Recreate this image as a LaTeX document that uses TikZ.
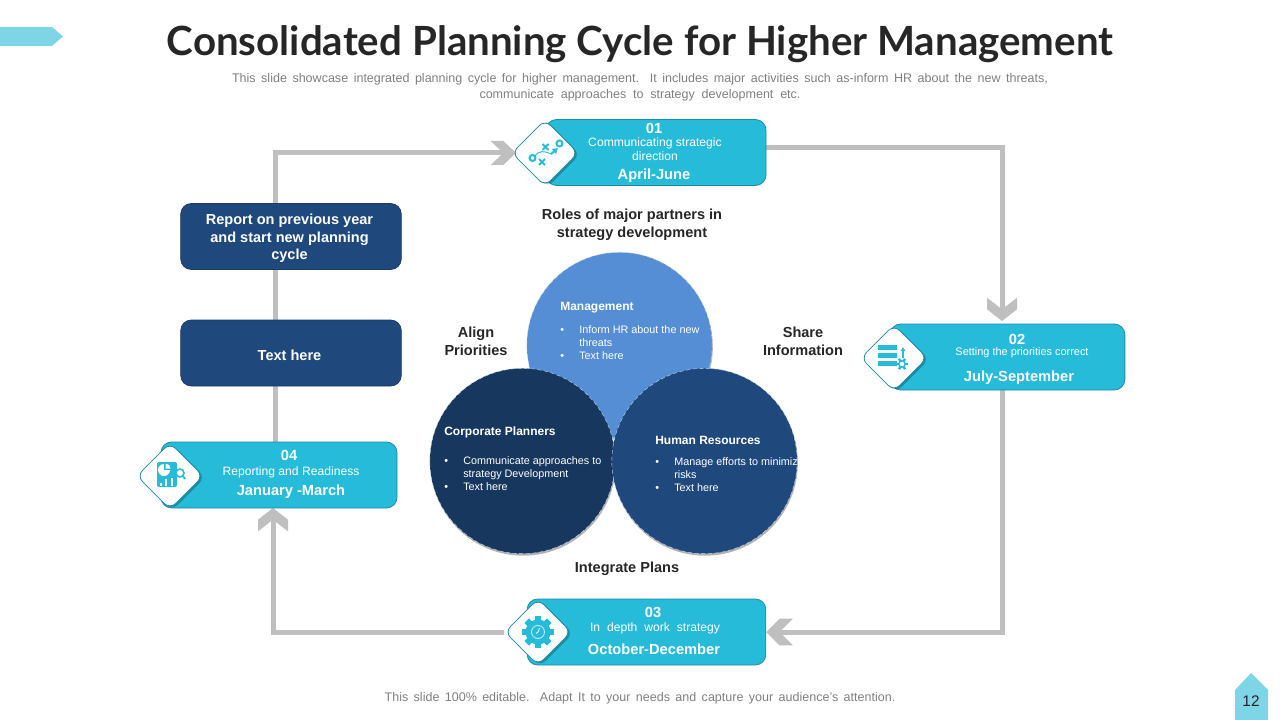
\documentclass[tikz,border=0pt]{standalone}
\usepackage{fontspec}
\setmainfont{Liberation Sans}
\newfontfamily\titlefont{Lato}
\usetikzlibrary{arrows.meta,backgrounds,shadows,shapes.geometric}

\definecolor{cardfill}{HTML}{26BBD9}
\definecolor{cardedge}{HTML}{1D8CA3}
\definecolor{tagfill}{HTML}{7DD5E6}
\definecolor{loopgray}{HTML}{BFBFBF}
\definecolor{boxblue}{HTML}{1F497D}
\definecolor{nightblue}{HTML}{17375E}
\definecolor{skyblue}{HTML}{558ED5}
\definecolor{inkgray}{HTML}{262626}
\definecolor{notegray}{HTML}{7F7F7F}

\newcommand{\itemdot}{\makebox[14.25pt][l]{\textbullet}}
\newcommand{\itemgap}{\hspace*{14.25pt}}

% chevron tip of the cycle lines
\pgfdeclarearrow{
    name=Chevron,
    parameters={\the\pgfarrowlength,\the\pgfarrowwidth},
    setup code={
        \pgfarrowssettipend{0pt}
        \pgfarrowssetbackend{-\pgfarrowlength}
        \pgfarrowssetlineend{-0.45\pgfarrowlength}
        \pgfarrowssetvisualbackend{-0.5\pgfarrowlength}
        \pgfarrowssavethe\pgfarrowlength
        \pgfarrowssavethe\pgfarrowwidth
    },
    drawing code={
        \pgfpathmoveto{\pgfpointorigin}
        \pgfpathlineto{\pgfpoint{-0.5\pgfarrowlength}{0.5\pgfarrowwidth}}
        \pgfpathlineto{\pgfpoint{-\pgfarrowlength}{0.5\pgfarrowwidth}}
        \pgfpathlineto{\pgfpoint{-0.5\pgfarrowlength}{0pt}}
        \pgfpathlineto{\pgfpoint{-\pgfarrowlength}{-0.5\pgfarrowwidth}}
        \pgfpathlineto{\pgfpoint{-0.5\pgfarrowlength}{-0.5\pgfarrowwidth}}
        \pgfpathclose
        \pgfusepathqfill
    },
    defaults={length=18pt,width=18pt}
}

\begin{document}
\begin{tikzpicture}[
    x=0.75pt,
    y=-0.75pt,
    card/.style={
        draw=cardedge,
        fill=cardfill,
        rounded corners=8pt,
        line width=0.6pt,
        minimum height=49.5pt,
        inner sep=0pt
    },
    icon/.style={
        diamond,
        draw=cardedge,
        fill=white,
        rounded corners=6pt,
        line width=0.6pt,
        minimum size=50pt,
        inner sep=0pt,
        drop shadow={shadow xshift=1.5pt,shadow yshift=-1pt,opacity=0.25,fill=black}
    },
    bluebox/.style={
        draw=boxblue!80!black,
        fill=boxblue,
        rounded corners=8pt,
        line width=0.5pt,
        minimum width=165.5pt,
        minimum height=49.5pt,
        inner sep=0pt
    },
    partner/.style={
        circle,
        draw=white!70!skyblue,
        densely dashed,
        line width=0.3pt,
        minimum size=139pt,
        inner sep=0pt,
        drop shadow={shadow xshift=0.5pt,shadow yshift=-1.5pt,opacity=0.3,fill=black}
    },
    number/.style={text=white,inner sep=0pt,font=\fontsize{11}{13}\selectfont\bfseries},
    period/.style={text=white,inner sep=0pt,font=\fontsize{11}{13}\selectfont\bfseries},
    task/.style={text=white,inner sep=0pt,align=center,font=\fontsize{9.1}{10.5}\selectfont},
    boxtext/.style={text=white,inner sep=0pt,align=center,font=\fontsize{10.9}{13.1}\selectfont\bfseries},
    rolehead/.style={text=white,inner sep=0pt,anchor=west,font=\fontsize{9}{10}\selectfont\bfseries},
    rolelist/.style={text=white,inner sep=0pt,anchor=north west,align=left,font=\fontsize{8.1}{9.75}\selectfont},
    caption/.style={text=inkgray,inner sep=0pt,align=center,font=\fontsize{10.9}{13.3}\selectfont\bfseries},
    note/.style={text=notegray,inner sep=0pt,align=center,font=\fontsize{9.4}{12}\selectfont},
    loopline/.style 2 args={
        color=loopgray,
        line width=3.75pt,
        -{Chevron[length=#1pt,width=#2pt]}
    },
    glyphline/.style={draw=cardfill,line width=1.5pt},
    glyphfill/.style={fill=cardfill}
]

\useasboundingbox (0,0) rectangle (1280,720);

% --------------------------------------------------
% Tags and title
% --------------------------------------------------

\fill[tagfill] (0,27) -- (52,27) -- (63,36.5) -- (52,46) -- (0,46) -- cycle;
\fill[tagfill] (1251,673) -- (1268,690) -- (1268,720) -- (1235,720) -- (1235,690) -- cycle;

\node[inner sep=0pt,text=inkgray] (pagenum) at (1251,701)
    {\fontsize{11.5}{13}\selectfont 12};

\node[inner sep=0pt,text=inkgray] (title) at (640,44)
    {\titlefont\fontsize{30.2}{36}\selectfont\bfseries Consolidated Planning Cycle for Higher Management};

\node[note] (subtitle) at (640,87.5)
    {\makebox[612pt][s]{This slide showcase integrated planning cycle for higher management. It includes major activities such as-inform HR about the new threats,}\\
     \makebox[240.75pt][s]{communicate approaches to strategy development etc.}};

\node[note] (footer) at (640,698)
    {\makebox[383pt][s]{This slide 100\% editable. Adapt It to your needs and capture your audience's attention.}};

% --------------------------------------------------
% Cards
% --------------------------------------------------

\node[card,minimum width=165pt] (card01) at (656,152.5) {};
\node[card,minimum width=176pt] (card02) at (1007.5,357) {};
\node[card,minimum width=179pt] (card03) at (646.5,632) {};
\node[card,minimum width=177pt] (card04) at (279,475) {};

\node[icon] (icon01) at (545,153) {};
\node[icon] (icon02) at (894,358) {};
\node[icon] (icon03) at (538,632) {};
\node[icon] (icon04) at (170,476) {};

\node[number] (num01) at (654,128) {01};
\node[task] (task01) at (655,149) {Communicating strategic\\direction};
\node[period] (time01) at (654,175.5) {April-June};

\node[number] (num02) at (1017,339) {02};
\node[task,font=\fontsize{8.2}{10}\selectfont] (task02) at (1022,353) {Setting the priorities correct};
\node[period] (time02) at (1019,377.5) {July-September};

\node[number] (num03) at (653,612) {03};
\node[task] (task03) at (655,628) {\makebox[97.5pt][s]{In depth work strategy}};
\node[period] (time03) at (654,649) {October-December};

\node[number] (num04) at (289,455) {04};
\node[task] (task04) at (291,472) {Reporting and Readiness};
\node[period] (time04) at (291,491.5) {January -March};

% --------------------------------------------------
% Left boxes
% --------------------------------------------------

\node[bluebox,text=white] (report) at (291,236.5) {};
\node[boxtext] (reporttext) at (289.5,238.5)
    {Report on previous year\\and start new planning\\cycle};
\node[bluebox] (spare) at (291,353) {};
\node[boxtext] (sparetext) at (289.5,355) {Text here};

% --------------------------------------------------
% Partner circles
% --------------------------------------------------

\node[partner,fill=skyblue] (management) at (619.5,345) {};
\node[partner,fill=nightblue] (planners) at (522.5,461) {};
\node[partner,fill=boxblue] (resources) at (704.5,461) {};

\node[rolehead] (managementhead) at (560,307.5) {Management};
\node[rolelist] (managementlist) at (560,325.5)
    {\itemdot Inform HR about the new\\ \itemgap threats\\ \itemdot Text here};

\node[rolehead] (plannershead) at (444,432.5) {Corporate Planners};
\node[rolelist] (plannerslist) at (444,456.5)
    {\itemdot Communicate approaches to\\ \itemgap strategy Development\\ \itemdot Text here};

\node[rolehead] (resourceshead) at (655,440) {Human Resources};
\node[rolelist] (resourceslist) at (655,457.5)
    {\itemdot Manage efforts to minimiz\\ \itemgap risks\\ \itemdot Text here};

% --------------------------------------------------
% Captions
% --------------------------------------------------

\node[caption] (rolescap) at (632,225)
    {Roles of major partners in\\strategy development};
\node[caption] (aligncap) at (476,341) {Align\\Priorities};
\node[caption] (sharecap) at (803,341) {Share\\Information};
\node[caption] (integratecap) at (627,569) {Integrate Plans};

% --------------------------------------------------
% Cycle lines
% --------------------------------------------------

\coordinate (out01) at (766,148);
\coordinate (in01) at (516,153);
\coordinate (in02) at (1002,321);
\coordinate (out02) at (1002,390);
\coordinate (in04) at (273,508);
\coordinate (out04) at (275,442);

\begin{scope}[on background layer]
    \draw[loopline={17.5}{22.5}] (out01) -| (in02);
    \draw[loopline={20}{20}] (out02) |- (card03.east);
    \draw[loopline={17.5}{22.5}] (icon03.west) -| (in04);
    \draw[loopline={19}{18}] (out04) |- (in01);
\end{scope}

% --------------------------------------------------
% Icon 01
% --------------------------------------------------

\begin{scope}[shift={(545,153)}]
    \draw[glyphline] (14.5,-9.5) circle (3);
    \draw[glyphline] (-12.5,5) circle (3);
    \draw[glyphline] (-2.5,-9) -- (3.5,-3) (3.5,-9) -- (-2.5,-3);
    \draw[glyphline] (-6,6) -- (0,12) (0,6) -- (-6,12);
    \draw[glyphline,-{Latex[length=4pt,width=5.5pt]}] (6,1) -- (13,-5);
    \draw[glyphline,line width=0.7pt] (-10,3) .. controls (-6,-3) and (0,-2) .. (6,1);
\end{scope}

% --------------------------------------------------
% Icon 02
% --------------------------------------------------

\begin{scope}[shift={(894,358)}]
    \fill[glyphfill] (-16,-13) rectangle (3,-8);
    \fill[glyphfill] (-16,-5) rectangle (3,0);
    \fill[glyphfill] (-16,3) rectangle (3,8);
    \draw[glyphline,-{Latex[length=3pt,width=4pt]}] (9,0) -- (9,-11);
    \foreach \a in {0,60,...,300}
    {
        \draw[glyphline,line width=1.8pt] (8,6) -- ++(\a:6);
    }
    \draw[glyphline,line width=1.1pt,fill=white] (8,6) circle (3.2);
\end{scope}

% --------------------------------------------------
% Icon 03
% --------------------------------------------------

\begin{scope}[shift={(538,632)}]
    \foreach \a in {0,45,...,315}
    {
        \draw[glyphline,line width=5pt] (0,0) -- (\a:16);
    }
    \fill[glyphfill] (0,0) circle (12.5);
    \draw[white!70!cardfill,line width=0.7pt] (0,0) circle (6.5);
    \draw[white,line width=0.6pt] (0,0) -- (1.5,-4) (0,0) -- (-2,1.5);
\end{scope}

% --------------------------------------------------
% Icon 04
% --------------------------------------------------

\begin{scope}[shift={(170,476)}]
    \fill[glyphfill,rounded corners=1.5pt] (-13,-14) rectangle (7,11);
    \fill[white] (-6,-6) circle (6);
    \fill[glyphfill] (-6,-6) rectangle (1,-13);
    \fill[white] (-4.5,-7.5) -- (-4.5,-12.5) .. controls (-1.8,-12.5) and (0.5,-10.2) .. (0.5,-7.5) -- cycle;
    \fill[white] (-10,7) rectangle (-8,9.5);
    \fill[white] (-5,3) rectangle (-3,9.5);
    \fill[white] (1,2) rectangle (3,9.5);
    \draw[glyphline,line width=1.2pt,fill=white] (10,-3) circle (4);
    \draw[glyphline] (13,0) -- (15,3);
\end{scope}

\end{tikzpicture}
\end{document}
